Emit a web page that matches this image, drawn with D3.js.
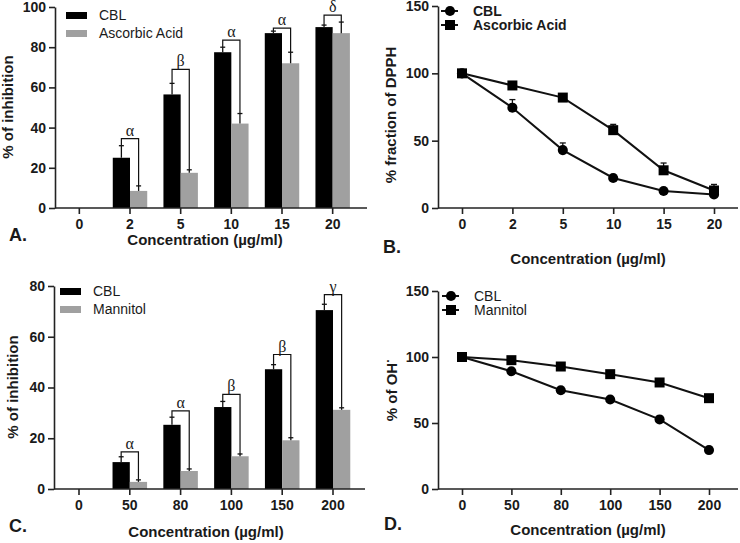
<!DOCTYPE html>
<html>
<head>
<meta charset="utf-8">
<script src="https://cdn.jsdelivr.net/npm/d3@7/dist/d3.min.js"></script>
<style>
  html, body { margin: 0; padding: 0; background: #fff; }
  svg { display: block; }
</style>
</head>
<body>
<svg id="chart" width="740" height="543" font-family="Liberation Sans, Arial, sans-serif"></svg>
<script>
// ---------- Data ----------
// Panel A (DPPH % inhibition)
const catsA = ["0", "2", "5", "10", "15", "20"];
const cblA = [0, 25, 56.5, 77.5, 87, 90];
const cblAErr = [0, 6, 5.5, 2.5, 1, 1];
const aaA = [0, 8.5, 17.5, 42, 72, 87];
const aaAErr = [0, 2.5, 1.5, 5, 5.5, 5.5];
const sigA = ["", "α", "β", "α", "α", "δ"];
const sigATop = [null, 34.5, 69, 83.5, 89.5, 96];
const yTicksA = [0, 20, 40, 60, 80, 100];

// Panel B (% fraction of DPPH)
const catsB = ["0", "2", "5", "10", "15", "20"];
const cblB = [100, 74.5, 43, 22.3, 12.6, 10];
const cblBErr = [0, 6, 5.3, 1, 0.5, 0.8];
const aaB = [100, 91, 82, 57.8, 28, 13];
const aaBErr = [0, 1, 1, 4.3, 5.4, 4.5];
const yTicksB = [0, 50, 100, 150];

// Panel C (OH radical % inhibition)
const catsC = ["0", "50", "80", "100", "150", "200"];
const cblC = [0, 10.6, 25.3, 32.3, 47.2, 70.5];
const cblCErr = [0, 2.1, 3, 2.2, 1.8, 2.3];
const manC = [0, 2.8, 7.1, 12.9, 19.2, 31.2];
const manCErr = [0, 0.8, 0.8, 0.9, 1, 0.8];
const sigC = ["", "α", "α", "β", "β", "γ"];
const sigCTop = [null, 14.6, 30.8, 37.3, 53, 76.6];
const yTicksC = [0, 20, 40, 60, 80];

// Panel D (% of OH·)
const catsD = ["0", "50", "80", "100", "150", "200"];
const cblD = [100, 89.2, 74.8, 67.8, 52.7, 29.5];
const manD = [100, 97.6, 92.8, 87, 80.7, 68.8];
const yTicksD = [0, 50, 100, 150];

// ---------- Drawing ----------
const svg = d3.select("#chart");
const BLACK = "#000000", GRAY = "#a0a0a0", AX = "#222", TXT = "#1a1a1a";
const SANS = "Liberation Sans, Arial, sans-serif";
const SERIF = "Liberation Serif, Times New Roman, serif";

function styleTicks(a) {
  a.selectAll(".tick line").attr("stroke", AX).attr("stroke-width", 1.6);
  a.selectAll(".tick text").attr("font-size", 14).attr("font-weight", "bold")
    .attr("font-family", SANS).attr("fill", TXT);
}
function yAxis(g, y, ticks, x0) {
  const a = g.append("g").attr("transform", `translate(${x0},0)`)
    .call(d3.axisLeft(y).tickValues(ticks).tickSize(6).tickSizeOuter(0).tickPadding(3));
  a.select(".domain").attr("stroke", AX).attr("stroke-width", 1.6);
  styleTicks(a);
}
function xAxis(g, scale, y0, xStart, xEnd) {
  g.append("line").attr("x1", xStart).attr("x2", xEnd).attr("y1", y0).attr("y2", y0)
    .attr("stroke", AX).attr("stroke-width", 1.6);
  const a = g.append("g").attr("transform", `translate(0,${y0})`)
    .call(d3.axisBottom(scale).tickSize(6).tickPadding(5).tickSizeOuter(0));
  a.select(".domain").remove();
  styleTicks(a);
}
function label(x, y, txt, size, weight, rotate, anchor) {
  const t = svg.append("text").attr("x", x).attr("y", y).text(txt)
    .attr("font-size", size).attr("font-weight", weight || "normal")
    .attr("fill", TXT).attr("text-anchor", anchor || "start");
  if (rotate) t.attr("transform", `rotate(-90,${x},${y})`);
  return t;
}

function barPanel(opt) {
  const g = svg.append("g");
  const x = d3.scaleBand().domain(opt.cats).range(opt.xRange).padding(0);
  const y = d3.scaleLinear().domain([0, opt.yMax]).range(opt.yRange);
  const bw = x.step() * 0.34;
  const cx = c => x(c) + x.bandwidth() / 2;
  const rows = opt.cats.map((c, i) => ({c, i, a: opt.s1[i], ae: opt.e1[i], b: opt.s2[i], be: opt.e2[i], sig: opt.sig[i], top: opt.top[i]}));
  g.selectAll(".b1").data(rows.filter(d => d.a > 0)).join("rect")
    .attr("x", d => cx(d.c) - bw).attr("width", bw)
    .attr("y", d => y(d.a)).attr("height", d => y(0) - y(d.a)).attr("fill", BLACK);
  g.selectAll(".b2").data(rows.filter(d => d.b > 0)).join("rect")
    .attr("x", d => cx(d.c)).attr("width", bw)
    .attr("y", d => y(d.b)).attr("height", d => y(0) - y(d.b)).attr("fill", GRAY);
  const eb = (xf, v, e) => {
    rows.forEach(d => {
      if (d[v] <= 0) return;
      const gx = xf(d), y1 = y(d[v]), y2 = y(d[v] + d[e]);
      g.append("line").attr("x1", gx).attr("x2", gx).attr("y1", y1).attr("y2", y2).attr("stroke", "#111").attr("stroke-width", 1.3);
      g.append("line").attr("x1", gx - 2.5).attr("x2", gx + 2.5).attr("y1", y2).attr("y2", y2).attr("stroke", "#111").attr("stroke-width", 1.3);
    });
  };
  eb(d => cx(d.c) - bw / 2, "a", "ae");
  eb(d => cx(d.c) + bw / 2, "b", "be");
  rows.filter(d => d.sig).forEach(d => {
    const xl = cx(d.c) - bw / 2, xr = cx(d.c) + bw / 2, yt = y(d.top);
    g.append("path")
      .attr("d", `M${xl},${y(d.a + d.ae)}V${yt}H${xr}V${y(d.b + d.be)}`)
      .attr("fill", "none").attr("stroke", "#111").attr("stroke-width", 1.2);
    g.append("text").attr("x", (xl + xr) / 2).attr("y", yt - 3).attr("text-anchor", "middle")
      .attr("font-family", SERIF).attr("font-size", 16).attr("fill", TXT).text(d.sig);
  });
  yAxis(g, y, opt.yTicks, opt.xAxisStart);
  xAxis(g, x, opt.yRange[0], opt.xAxisStart, opt.xAxisEnd);
  opt.legend.forEach((l, i) => {
    g.append("rect").attr("x", opt.legX).attr("y", opt.legY + i * opt.legDy - 3).attr("width", 21).attr("height", 7).attr("fill", l.color);
    g.append("text").attr("x", opt.legX + 33).attr("y", opt.legY + i * opt.legDy + 5).attr("font-size", 14).attr("fill", TXT).text(l.name);
  });
}

function linePanel(opt) {
  const g = svg.append("g");
  const x = d3.scalePoint().domain(opt.cats).range(opt.xRange).padding(0);
  const y = d3.scaleLinear().domain([0, opt.yMax]).range(opt.yRange);
  yAxis(g, y, opt.yTicks, opt.xAxisStart);
  xAxis(g, x, opt.yRange[0], opt.xAxisStart, opt.xAxisEnd);
  const line = d3.line().x(d => x(d.c)).y(d => y(d.v));
  const symOf = s => s.shape === "circle" ? d3.symbol(d3.symbolCircle, 80) : d3.symbol(d3.symbolSquare, 100);
  opt.series.forEach(s => {
    const pts = opt.cats.map((c, i) => ({c, v: s.values[i], e: s.err ? s.err[i] : 0}));
    g.append("path").attr("d", line(pts)).attr("fill", "none").attr("stroke", "#111").attr("stroke-width", 2);
    pts.forEach(p => {
      if (p.e > 0.8) {
        const px = x(p.c), y1 = y(p.v), y2 = y(p.v + p.e);
        g.append("line").attr("x1", px).attr("x2", px).attr("y1", y1).attr("y2", y2).attr("stroke", "#111").attr("stroke-width", 1.3);
        g.append("line").attr("x1", px - 3).attr("x2", px + 3).attr("y1", y2).attr("y2", y2).attr("stroke", "#111").attr("stroke-width", 1.3);
      }
    });
    g.selectAll(null).data(pts).join("path")
      .attr("transform", p => `translate(${x(p.c)},${y(p.v)})`)
      .attr("d", symOf(s)).attr("fill", "#000");
  });
  opt.series.forEach((s, i) => {
    const ly = opt.legY + i * opt.legDy;
    g.append("line").attr("x1", opt.legX).attr("x2", opt.legX + 17).attr("y1", ly).attr("y2", ly).attr("stroke", "#111").attr("stroke-width", 2);
    g.append("path").attr("transform", `translate(${opt.legX + 9},${ly})`).attr("d", symOf(s)).attr("fill", "#000");
    g.append("text").attr("x", opt.legX + 32).attr("y", ly + 5).attr("font-size", 14).attr("fill", TXT)
      .attr("font-weight", opt.legBold ? "bold" : "normal").text(s.name);
  });
}

barPanel({
  cats: catsA, s1: cblA, e1: cblAErr, s2: aaA, e2: aaAErr, sig: sigA, top: sigATop,
  yMax: 100, yRange: [208, 7], xRange: [54, 358], xAxisStart: 55, xAxisEnd: 367, yTicks: yTicksA,
  legX: 66, legY: 15, legDy: 18,
  legend: [{name: "CBL", color: BLACK}, {name: "Ascorbic Acid", color: GRAY}]
});
linePanel({
  cats: catsB, yMax: 150, yRange: [208, 6], xRange: [462, 714], xAxisStart: 438, xAxisEnd: 738, yTicks: yTicksB,
  legX: 441, legY: 11, legDy: 14, legBold: true,
  series: [{name: "CBL", values: cblB, err: cblBErr, shape: "circle"},
           {name: "Ascorbic Acid", values: aaB, err: aaBErr, shape: "square"}]
});
barPanel({
  cats: catsC, s1: cblC, e1: cblCErr, s2: manC, e2: manCErr, sig: sigC, top: sigCTop,
  yMax: 80, yRange: [489, 286], xRange: [53.6, 358.4], xAxisStart: 54, xAxisEnd: 365, yTicks: yTicksC,
  legX: 60, legY: 291, legDy: 18,
  legend: [{name: "CBL", color: BLACK}, {name: "Mannitol", color: GRAY}]
});
linePanel({
  cats: catsD, yMax: 150, yRange: [489, 291], xRange: [462, 709], xAxisStart: 438, xAxisEnd: 738, yTicks: yTicksD,
  legX: 442, legY: 296, legDy: 14, legBold: false,
  series: [{name: "CBL", values: cblD, shape: "circle"},
           {name: "Mannitol", values: manD, shape: "square"}]
});

label(13, 107, "% of inhibition", 15, "bold", true, "middle");
label(396, 115, "% fraction of DPPH", 15, "bold", true, "middle");
label(18, 387, "% of inhibition", 15, "bold", true, "middle");
const t = label(397, 390, "% of OH", 15, "bold", true, "middle");
t.append("tspan").attr("dy", -5).attr("font-size", 12).text("·");

label(205, 245, "Concentration (µg/ml)", 15, "bold", false, "middle");
label(588, 264, "Concentration (µg/ml)", 15, "bold", false, "middle");
label(206, 537, "Concentration (µg/ml)", 15, "bold", false, "middle");
label(588, 535, "Concentration (µg/ml)", 15, "bold", false, "middle");

label(9, 241, "A.", 18, "bold");
label(383, 253, "B.", 18, "bold");
label(9, 532, "C.", 18, "bold");
label(384, 530, "D.", 18, "bold");
</script>
</body>
</html>
